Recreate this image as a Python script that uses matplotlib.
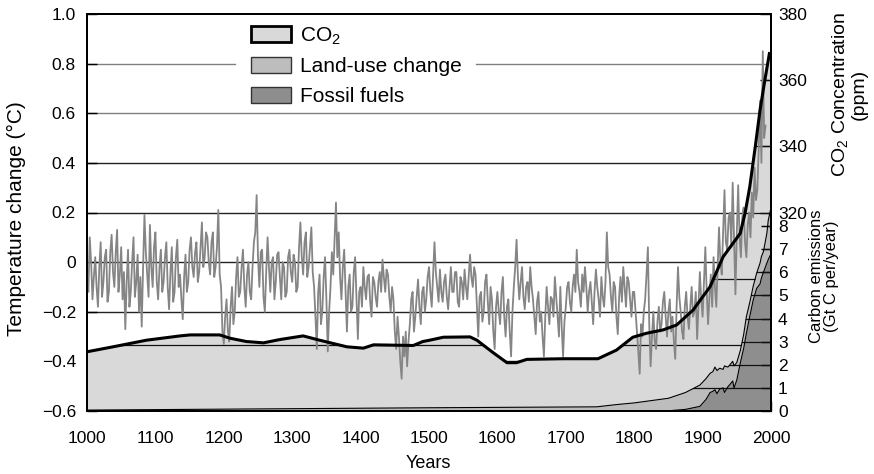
import numpy as np
import matplotlib
matplotlib.use('Agg')
import matplotlib.pyplot as plt
from matplotlib.patches import Patch

plt.rcParams['font.family'] = ['Liberation Sans', 'DejaVu Sans']
plt.rcParams['mathtext.fontset'] = 'custom'
plt.rcParams['mathtext.rm'] = 'Liberation Sans'

# ---------------- data ----------------
temp_years = np.arange(1000, 1993, 2)
temp_values = [
    -0.05, -0.12, 0.10, 0.00, -0.15, -0.06, 0.02, -0.10, -0.18, -0.02, 0.08, -0.14, -0.08, 0.02, 0.05, -0.16, -0.12, 0.04, 0.11, -0.04,
    -0.10, 0.04, 0.13, -0.12, -0.05, 0.06, -0.15, -0.04, -0.27, -0.08, 0.05, -0.18, -0.12, 0.00, 0.10, -0.14, -0.08, 0.03, -0.20, -0.06,
    -0.26, -0.02, 0.19, 0.04, -0.05, -0.14, 0.15, -0.02, -0.10, 0.06, 0.12, -0.08, -0.15, -0.02, 0.05, -0.12, -0.08, 0.02, 0.08, -0.10,
    -0.19, -0.04, 0.06, -0.16, -0.12, 0.02, 0.09, -0.10, -0.05, -0.15, -0.23, -0.06, 0.03, -0.12, -0.08, 0.05, 0.10, -0.02, -0.06, 0.04,
    0.08, -0.08, -0.04, 0.06, 0.16, -0.02, 0.02, 0.12, 0.10, 0.00, -0.05, 0.08, 0.12, -0.06, -0.02, 0.06, 0.21, -0.05, -0.10, -0.28,
    -0.33, -0.22, -0.15, -0.28, -0.32, -0.18, -0.10, -0.25, -0.20, -0.06, 0.02, -0.14, -0.12, -0.02, 0.05, -0.10, -0.18, -0.05, 0.00, -0.12,
    -0.15, -0.02, 0.08, 0.12, 0.27, 0.02, -0.10, 0.04, 0.05, -0.14, -0.20, -0.04, 0.10, -0.02, -0.12, 0.00, 0.02, -0.15, -0.08, 0.03,
    0.04, -0.06, -0.15, 0.00, -0.02, -0.14, -0.12, 0.02, 0.05, -0.04, -0.08, 0.03, 0.00, -0.12, -0.10, 0.06, 0.16, 0.02, -0.05, 0.08,
    0.12, -0.06, -0.02, 0.06, 0.14, -0.04, -0.10, -0.22, -0.35, -0.12, -0.05, -0.25, -0.20, -0.06, 0.02, -0.15, -0.36, -0.20, -0.10, 0.04,
    -0.05, 0.10, 0.24, 0.02, 0.12, -0.06, -0.15, -0.02, 0.05, -0.12, -0.28, -0.10, -0.05, -0.20, -0.18, -0.04, 0.02, -0.14, -0.31, -0.12,
    -0.10, -0.18, -0.02, -0.10, -0.15, -0.06, -0.05, -0.16, -0.22, -0.06, -0.08, -0.14, -0.18, -0.08, -0.04, -0.12, 0.01, -0.06, -0.12, -0.03,
    -0.05, -0.14, -0.20, -0.10, -0.15, -0.28, -0.35, -0.22, -0.30, -0.40, -0.47, -0.30, -0.38, -0.28, -0.42, -0.32, -0.25, -0.15, -0.12, -0.28,
    -0.22, -0.14, -0.07, -0.18, -0.25, -0.12, -0.10, -0.20, -0.15, -0.06, -0.02, -0.12, -0.18, -0.05, 0.08, -0.04, -0.10, -0.16, -0.03, -0.12,
    -0.16, -0.08, -0.05, -0.14, -0.19, -0.10, -0.02, -0.12, -0.12, -0.04, -0.04, -0.16, -0.18, -0.06, -0.08, -0.15, -0.03, -0.10, -0.15, -0.06,
    0.03, -0.06, -0.10, -0.02, -0.05, -0.18, -0.30, -0.14, -0.12, -0.24, -0.20, -0.08, -0.05, -0.16, -0.25, -0.10, -0.15, -0.28, -0.35, -0.18,
    -0.12, -0.20, -0.25, -0.12, -0.06, -0.22, -0.30, -0.18, -0.15, -0.28, -0.38, -0.20, -0.10, -0.02, 0.09, -0.06, -0.15, -0.08, -0.02, -0.14,
    -0.19, -0.10, -0.08, -0.16, -0.02, -0.10, -0.15, -0.22, -0.29, -0.16, -0.12, -0.24, -0.20, -0.30, -0.38, -0.22, -0.10, -0.18, -0.25, -0.14,
    -0.15, -0.22, -0.06, -0.14, -0.22, -0.30, -0.10, -0.26, -0.38, -0.24, -0.18, -0.10, -0.08, -0.16, -0.20, -0.10, -0.05, -0.12, 0.05, -0.08,
    -0.12, -0.18, -0.05, -0.12, -0.02, -0.10, -0.20, -0.12, -0.08, -0.16, -0.25, -0.12, -0.03, -0.10, -0.15, -0.22, -0.06, -0.14, -0.18, -0.08,
    0.12, -0.02, -0.05, -0.14, -0.20, -0.08, -0.10, -0.22, -0.29, -0.14, -0.06, -0.16, -0.02, -0.10, -0.18, -0.06, -0.08, -0.15, -0.22, -0.12,
    -0.12, -0.20, -0.28, -0.36, -0.45, -0.25, -0.30, -0.20, -0.15, -0.05, 0.06, -0.25, -0.42, -0.30, -0.20, -0.32, -0.35, -0.24, -0.18, -0.28,
    -0.25, -0.16, -0.12, -0.22, -0.30, -0.20, -0.15, -0.28, -0.22, -0.32, -0.39, -0.18, -0.02, -0.14, -0.20, -0.28, -0.31, -0.18, -0.12, -0.22,
    -0.27, -0.18, -0.10, -0.22, -0.20, -0.12, -0.31, -0.18, -0.04, -0.15, -0.22, -0.08, 0.06, -0.12, -0.25, -0.14, -0.05, -0.18, 0.02, -0.10,
    -0.18, -0.02, 0.14, 0.00, -0.05, 0.12, 0.29, 0.08, 0.05, 0.18, 0.20, 0.06, 0.32, 0.10, -0.13, 0.12, 0.31, 0.10, 0.02, 0.18,
    0.22, 0.08, 0.02, 0.15, 0.20, 0.10, 0.28, 0.18, 0.38, 0.25, 0.29, 0.45, 0.65, 0.40, 0.85, 0.50, 0.55,
]

co2_years = [1000, 1038, 1087, 1136, 1151, 1194, 1209, 1233, 1258, 1282,
             1316, 1340, 1380, 1404, 1419, 1477, 1491, 1501, 1521, 1560,
             1570, 1594, 1614, 1628, 1643, 1696, 1747, 1774, 1798, 1818,
             1842, 1862, 1886, 1911, 1930, 1955, 1962, 1969, 1977, 1984,
             1991, 1998]
co2_ppm = [277.9, 279.4, 281.4, 282.7, 283.0, 283.0, 282.0, 281.0, 280.6, 281.6,
           282.7, 281.4, 279.4, 279.0, 280.0, 279.8, 281.0, 281.4, 282.3, 282.4,
           281.4, 277.6, 274.6, 274.6, 275.6, 275.8, 275.8, 278.4, 282.3, 283.5,
           284.5, 286.0, 290.5, 297.6, 306.6, 313.7, 319.7, 327.8, 339.9, 351.0,
           360.0, 368.5]

em_years = [1000, 1250, 1500, 1745, 1775, 1800, 1825, 1850, 1875, 1896,
            1905, 1911, 1915, 1918, 1921, 1925, 1930, 1932, 1937, 1940,
            1944, 1946, 1950, 1955, 1960, 1964, 1969, 1974, 1979, 1984,
            1986, 1989, 1994, 1996, 2000]
fossil_fuels = [0.0, 0.0, 0.0, 0.0, 0.0, 0.0, 0.0, 0.01, 0.07, 0.20,
                0.50, 0.80, 0.85, 0.92, 0.75, 0.95, 1.00, 0.80, 1.05, 1.15,
                1.30, 1.00, 1.34, 2.06, 2.70, 3.36, 4.10, 4.80, 5.30, 5.50,
                5.75, 6.00, 6.40, 6.55, 6.80]
land_use = [0.04, 0.09, 0.14, 0.18, 0.28, 0.35, 0.45, 0.54, 0.73, 0.92,
            0.90, 0.83, 0.85, 0.98, 1.00, 0.90, 0.80, 1.15, 0.85, 0.85,
            0.85, 0.95, 0.76, 0.54, 0.60, 0.72, 0.60, 0.60, 0.66, 0.90,
            0.93, 0.90, 1.30, 1.70, 2.00]

year_ticks = list(range(1000, 2001, 100))
temp_ticks = [-0.6, -0.4, -0.2, 0, 0.2, 0.4, 0.6, 0.8, 1.0]
temp_tick_labels = ['\u22120.6', '\u22120.4', '\u22120.2', '0', '0.2', '0.4', '0.6', '0.8', '1.0']
temp_grid = [0.8, 0.6, 0.4, 0.2, 0.0, -0.2, -0.4]
co2_ticks = [320, 340, 360, 380]
co2_grid = [280, 300, 320, 340, 360]
em_ticks = [0, 1, 2, 3, 4, 5, 6, 7, 8]

C_CO2 = '#d9d9d9'
C_LAND = '#bdbdbd'
C_FOSSIL = '#8e8e8e'
C_TEMP = '#858585'

# ---------------- figure ----------------
W, H = 874, 474
fig = plt.figure(figsize=(W / 100, H / 100), dpi=100)
L, R, T, B = 87, 771, 14, 411
ax = fig.add_axes([L / W, 1 - B / H, (R - L) / W, (B - T) / H])
ax.set_xlim(1000, 2000)
ax.set_ylim(-0.6, 1.0)

# CO2 axis (fill + internal grid)
ax_co2 = ax.twinx()
ax_co2.set_ylim(260, 380)
co2_poly = ax_co2.fill_between(co2_years, co2_ppm, 260, color=C_CO2, lw=0, zorder=1)
for v in co2_grid:
    ln = ax_co2.axhline(v, color='#111111', lw=0.9, zorder=2)
    ln.set_clip_path(co2_poly.get_paths()[0], ax_co2.transData)

# emissions axis
ax_em = ax.twinx()
ax_em.set_ylim(0, 17.17)
total = np.array(fossil_fuels) + np.array(land_use)
tot_poly = ax_em.fill_between(em_years, total, 0, color=C_LAND, lw=0, zorder=1)
ax_em.fill_between(em_years, fossil_fuels, 0, color=C_FOSSIL, lw=0, zorder=1.5)
for v in em_ticks[1:]:
    ln = ax_em.axhline(v, color='#111111', lw=0.9, zorder=2)
    ln.set_clip_path(tot_poly.get_paths()[0], ax_em.transData)
ax_em.plot(em_years, total, color='black', lw=0.8, zorder=3)
ax_em.plot(em_years, fossil_fuels, color='black', lw=0.8, zorder=3)

# temperature line
ax_t = ax.twinx()
ax_t.set_ylim(-0.6, 1.0)
ax_t.plot(temp_years, temp_values, color=C_TEMP, lw=1.3, zorder=2)
ax_t.yaxis.set_visible(False)

# CO2 line on top
ax_cl = ax.twinx()
ax_cl.set_ylim(260, 380)
ax_cl.plot(co2_years, co2_ppm, color='black', lw=2.2, zorder=3, solid_capstyle='butt')
ax_cl.yaxis.set_visible(False)

# ---------------- ticks ----------------
FS_TICK = 12.5
ax.set_xticks(year_ticks)
ax.set_xticks(list(range(1050, 2000, 100)), minor=True)
ax.set_yticks(temp_ticks)
ax.set_yticklabels(temp_tick_labels)
ax.tick_params(axis='x', which='both', direction='in', length=7, width=1, labelsize=FS_TICK, pad=14.5)
ax.tick_params(axis='y', direction='in', length=7.5, width=1, labelsize=FS_TICK, pad=8)

ax_co2.set_yticks(co2_ticks)
ax_co2.tick_params(axis='y', direction='in', length=8, width=1, labelsize=FS_TICK, pad=5)
ax_em.set_yticks(em_ticks)
ax_em.tick_params(axis='y', direction='in', length=7, width=1, labelsize=FS_TICK, pad=5)

for a in (ax, ax_co2, ax_em, ax_t, ax_cl):
    for s in a.spines.values():
        s.set_linewidth(1.2)
        s.set_color('black')

# ---------------- labels ----------------
fig.text(16 / W, 1 - 219 / H, 'Temperature change (\u00b0C)', rotation=90,
         ha='center', va='center', fontsize=15)
fig.text(428 / W, 1 - 464 / H, 'Years', ha='center', va='center', fontsize=13)
fig.text(849 / W, 1 - 94 / H, 'CO$_\\mathregular{2}$ Concentration\n(ppm)', rotation=90,
         ha='center', va='center', fontsize=14, multialignment='center', linespacing=0.95)
fig.text(824 / W, 1 - 276 / H, 'Carbon emissions\n(Gt C per/year)', rotation=90,
         ha='center', va='center', fontsize=12, multialignment='center', linespacing=0.95)

# ---------------- legend ----------------
handles = [
    Patch(facecolor=C_CO2, edgecolor='black', linewidth=2.0, label='CO$_\\mathregular{2}$'),
    Patch(facecolor=C_LAND, edgecolor='#333333', linewidth=1.0, label='Land-use change'),
    Patch(facecolor=C_FOSSIL, edgecolor='#333333', linewidth=1.0, label='Fossil fuels'),
]
leg = ax_cl.legend(handles=handles, loc='upper left',
                   bbox_to_anchor=(251 / W, 1 - 25 / H), bbox_transform=fig.transFigure,
                   fontsize=15, frameon=False, borderpad=0,
                   handlelength=1.92, handleheight=0.77, handletextpad=0.43,
                   labelspacing=0.52, borderaxespad=0)

# temperature gridlines (the top one is interrupted by the legend)
fig.canvas.draw()
bb = leg.get_window_extent(fig.canvas.get_renderer())
ax_bb = ax.get_window_extent(fig.canvas.get_renderer())
gap0 = (bb.x0 - 16 - ax_bb.x0) / ax_bb.width
gap1 = (bb.x1 + 14 - ax_bb.x0) / ax_bb.width
for v in temp_grid:
    c = '#808080' if v >= 0.6 else '#222222'
    if v == 0.8:
        ax.axhline(v, xmax=gap0, color=c, lw=1.0, zorder=1)
        ax.axhline(v, xmin=gap1, color=c, lw=1.0, zorder=1)
    else:
        ax.axhline(v, color=c, lw=1.0, zorder=1)

fig.savefig('out.png', dpi=100)
